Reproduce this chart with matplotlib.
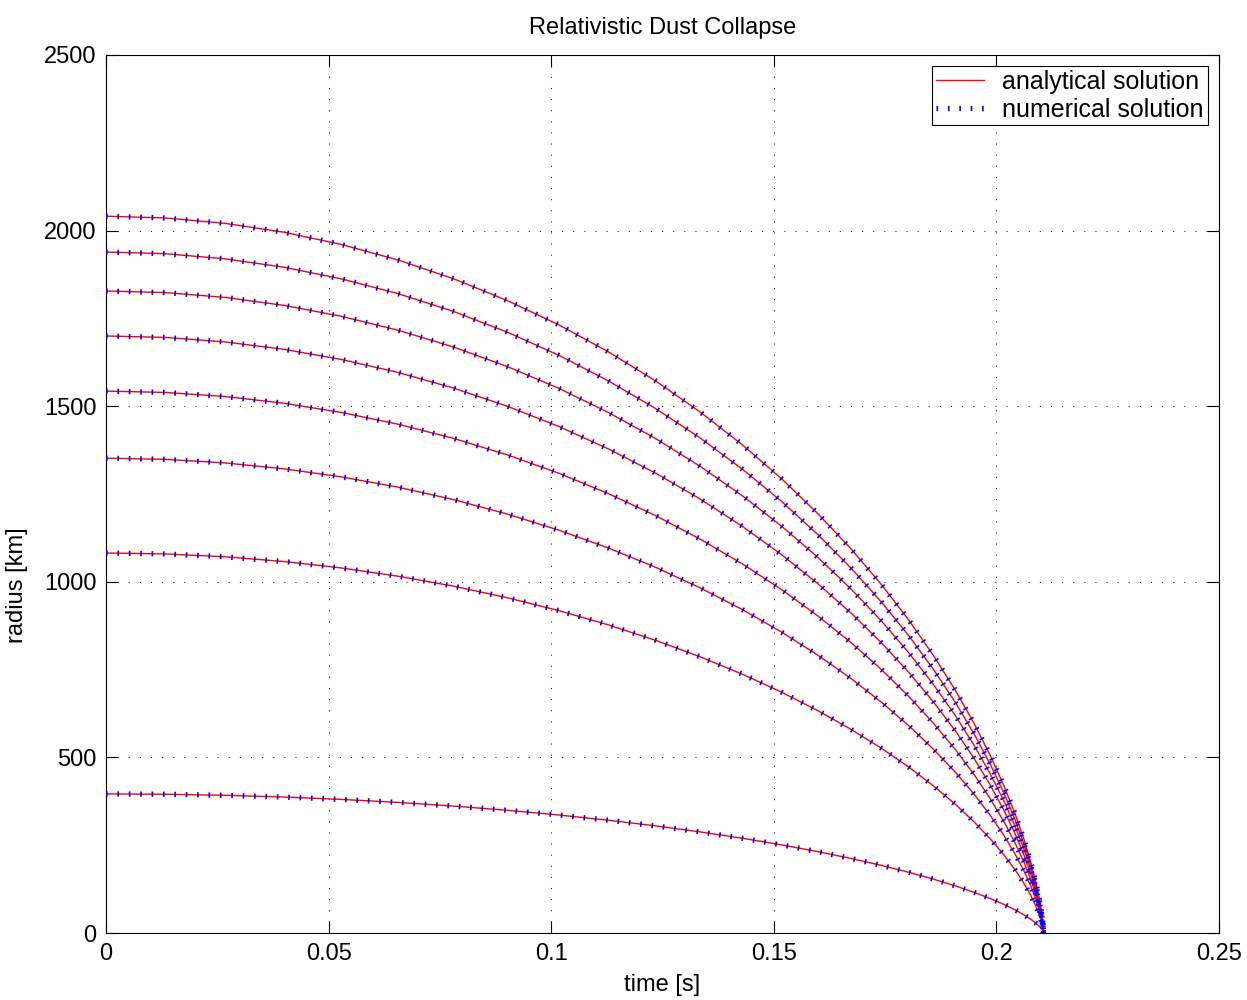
import matplotlib
matplotlib.use("Agg")
import numpy as np
import matplotlib.pyplot as plt

# time samples [s] (all shells collapse at ~0.2106 s)
time_s = [0.0, 0.01339, 0.02673, 0.03992, 0.05292, 0.06565, 0.07807, 0.09011,
          0.10172, 0.11284, 0.12345, 0.13348, 0.14292, 0.15174, 0.15991, 0.16742,
          0.17427, 0.18044, 0.18594, 0.19081, 0.19503, 0.19864, 0.20168, 0.20417,
          0.20617, 0.20771, 0.20885, 0.20965, 0.21016, 0.21044, 0.21057, 0.2106]

# radius as fraction of the starting radius (same shape for every shell)
radius_frac = [1.0, 0.9975, 0.9900, 0.9777, 0.9605, 0.9388, 0.9127, 0.8824,
               0.8484, 0.8108, 0.7702, 0.7268, 0.6812, 0.6338, 0.5850, 0.5354,
               0.4854, 0.4356, 0.3864, 0.3384, 0.2920, 0.2476, 0.2058, 0.1669,
               0.1313, 0.0995, 0.0716, 0.0480, 0.0289, 0.0145, 0.0050, 0.0]

# starting radius of each shell [km]
start_radius_km = [2041, 1939, 1828, 1700, 1543, 1352, 1082, 396]

xticks = [0, 0.05, 0.1, 0.15, 0.2, 0.25]
xticklabels = ["0", "0.05", "0.1", "0.15", "0.2", "0.25"]
yticks = [0, 500, 1000, 1500, 2000, 2500]

plt.rcParams['font.family'] = ['Liberation Sans', 'DejaVu Sans']
plt.rcParams['lines.scale_dashes'] = False

fig = plt.figure(figsize=(12.47, 10), dpi=100)
ax = fig.add_axes([0.085, 0.067, 0.8925, 0.878])

t = np.array(time_s)
frac = np.array(radius_frac)
for i, r0 in enumerate(start_radius_km):
    r = r0 * frac
    ax.plot(t, r, color="red", lw=1.0, zorder=3,
            label="analytical solution" if i == 0 else None)
    ax.plot(t, r, color="blue", lw=3.8, linestyle=(0, (1.2, 7.0)),
            dash_capstyle="butt", zorder=4,
            label="numerical solution" if i == 0 else None)

ax.set_xlim(0, 0.25)
ax.set_ylim(0, 2500)
ax.set_xticks(xticks)
ax.set_xticklabels(xticklabels)
ax.set_yticks(yticks)
ax.tick_params(direction="in", length=8.5, width=0.8, top=True, right=True,
               labelsize=17, pad=7)
ax.grid(True, color="black", lw=0.6, linestyle=(0, (0.8, 7.2)))
for sp in ax.spines.values():
    sp.set_linewidth(0.8)

ax.set_title("Relativistic Dust Collapse", fontsize=17, pad=15)
ax.set_xlabel("time [s]", fontsize=17, va="center")
ax.xaxis.set_label_coords(0.5, -0.059)
ax.set_ylabel("radius [km]", fontsize=17, va="center")
ax.yaxis.set_label_coords(-0.080, 0.396)

leg = ax.legend(loc="upper right", fontsize=18, frameon=True, fancybox=False,
                edgecolor="black", framealpha=1, borderaxespad=0.45,
                handlelength=1.9, borderpad=0.15, labelspacing=0.15, handletextpad=0.75)
leg.get_frame().set_linewidth(0.8)

fig.savefig("out.png", dpi=100)
